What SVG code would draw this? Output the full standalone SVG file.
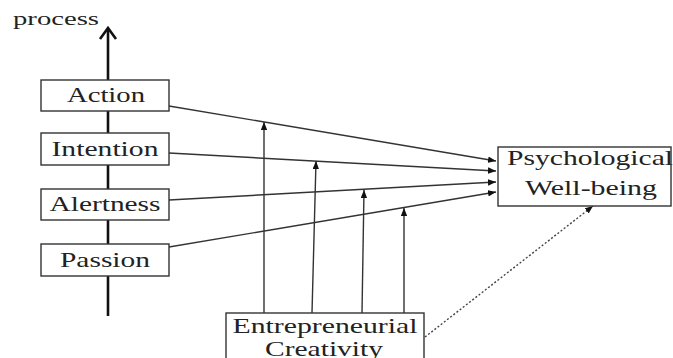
<svg xmlns="http://www.w3.org/2000/svg" width="673" height="358" viewBox="0 0 673 358">
<style>
.box{fill:#fff;stroke:#333;stroke-width:1.4}
.t{font-family:"Liberation Serif","Times New Roman",serif;font-size:22px;fill:#222;text-anchor:middle}
.c{stroke:#333;stroke-width:1.4;fill:none}
.d{stroke:#444;stroke-width:1.4;fill:none;stroke-dasharray:2,2}
</style>
<defs>
<marker id="ah" viewBox="0 0 10 8" refX="10" refY="4" markerWidth="8" markerHeight="6.4" markerUnits="userSpaceOnUse" orient="auto">
<path d="M0,0 L10,4 L0,8 Z" fill="#111"/>
</marker>
</defs>
<rect width="673" height="358" fill="#fff"/>
<g id="axis">
<line x1="108" y1="316" x2="108" y2="29" stroke="#111" stroke-width="2.6"/>
<polyline points="100,39 108,28 116,39" fill="none" stroke="#111" stroke-width="2.6"/>
<text x="13" y="25" style="font-family:'Liberation Serif','Times New Roman',serif;font-size:18px;fill:#222" textLength="86" lengthAdjust="spacingAndGlyphs">process</text>
</g>
<g id="connectors">
<line class="c" x1="169" y1="106" x2="496" y2="161" marker-end="url(#ah)"/>
<line class="c" x1="169" y1="153" x2="496" y2="171" marker-end="url(#ah)"/>
<line class="c" x1="169" y1="200" x2="496" y2="182" marker-end="url(#ah)"/>
<line class="c" x1="169" y1="247" x2="496" y2="192" marker-end="url(#ah)"/>
<line class="c" x1="264" y1="313" x2="264" y2="122" marker-end="url(#ah)"/>
<line class="c" x1="312" y1="313" x2="316" y2="161" marker-end="url(#ah)"/>
<line class="c" x1="362" y1="313" x2="364" y2="190" marker-end="url(#ah)"/>
<line class="c" x1="404" y1="313" x2="404" y2="208" marker-end="url(#ah)"/>
<line class="d" x1="425" y1="337" x2="593" y2="206" marker-end="url(#ah)"/>
</g>
<g id="action">
<rect class="box" x="41" y="80" width="128" height="31"/>
<text class="t" x="106" y="102" textLength="78" lengthAdjust="spacingAndGlyphs">Action</text>
</g>
<g id="intention">
<rect class="box" x="41" y="133" width="128" height="32"/>
<text class="t" x="105" y="156" textLength="107" lengthAdjust="spacingAndGlyphs">Intention</text>
</g>
<g id="alertness">
<rect class="box" x="41" y="189" width="128" height="31"/>
<text class="t" x="105" y="211" textLength="111" lengthAdjust="spacingAndGlyphs">Alertness</text>
</g>
<g id="passion">
<rect class="box" x="41" y="244" width="128" height="32"/>
<text class="t" x="105" y="267" textLength="90" lengthAdjust="spacingAndGlyphs">Passion</text>
</g>
<g id="wellbeing">
<rect class="box" x="498" y="147" width="173" height="59"/>
<text class="t" x="590" y="165" textLength="166" lengthAdjust="spacingAndGlyphs">Psychological</text>
<text class="t" x="591" y="195" textLength="132" lengthAdjust="spacingAndGlyphs">Well-being</text>
</g>
<g id="creativity">
<rect class="box" x="226" y="313" width="198" height="50"/>
<text class="t" x="325" y="333" textLength="185" lengthAdjust="spacingAndGlyphs">Entrepreneurial</text>
<text class="t" x="324" y="356" textLength="118" lengthAdjust="spacingAndGlyphs">Creativity</text>
</g>
</svg>
